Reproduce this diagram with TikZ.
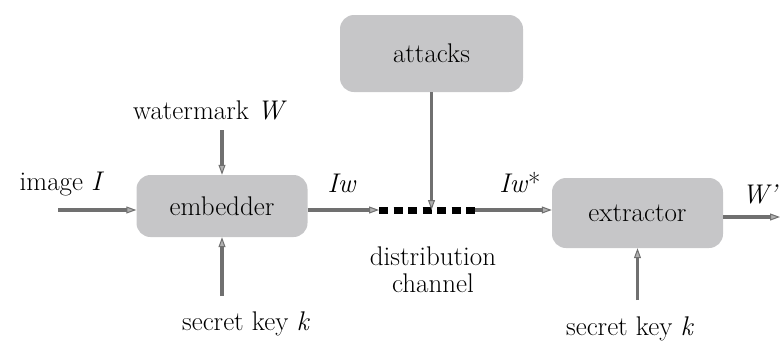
\documentclass[tikz,border=0pt]{standalone}
\usetikzlibrary{arrows.meta}
\definecolor{boxgray}{HTML}{C6C6C8}
\definecolor{linegray}{HTML}{707070}
\definecolor{tipgray}{HTML}{B0B0B0}
\begin{document}
\begin{tikzpicture}[x=1pt,y=-1pt,
  block/.style={draw=none, fill=boxgray, rounded corners=14pt, minimum width=171pt, minimum height=62pt, inner sep=0pt, font=\fontsize{27}{27}\selectfont},
  lbl/.style={font=\fontsize{27}{27}\selectfont, inner sep=0pt},
  flow/.style={draw=linegray, line width=3.5pt, -{Triangle[open, length=10pt, width=7pt, line width=1pt, fill=tipgray]}},
  chan/.style={draw=black, line width=7pt, dash pattern=on 9pt off 5.5pt}]
\useasboundingbox (0,0) rectangle (780,341);
% blocks
\node[block] (emb) at (222,206) {embedder};
\node[block, minimum height=70pt] (ext) at (637.5,213) {extractor};
\node[block, minimum width=183pt, minimum height=77pt] (atk) at (431.5,53.5) {attacks};
% labels
\node[lbl] (img) at (62,184) {image \textit{I}};
\node[lbl] (wm) at (210,110) {watermark \textit{W}};
\node[lbl] (sk1) at (246,324) {secret key \textit{k}};
\node[lbl] (sk2) at (630,329) {secret key \textit{k}};
\node[lbl] (iw) at (342,183) {\textit{Iw}};
\node[lbl] (iws) at (520,183) {\textit{Iw}*};
\node[lbl, align=center] (dc) at (433,270) {distribution\\channel};
\node[lbl, anchor=west] (wp) at (742,194) {\textit{W'}};
% coordinates
\coordinate (chs) at (379,210);
\coordinate (che) at (475,210);
\coordinate (chmid) at (431.5,210);
\coordinate (imgs) at (58,210);
\coordinate (wms) at (222,130);
\coordinate (sk1s) at (222,296);
\coordinate (sk2s) at (637.5,300);
\coordinate (wpe) at (780,217);
% channel
\draw[chan] (chs) -- (che);
% connectors
\draw[flow] (imgs) -- (emb.west |- imgs);
\draw[flow] (wms) -- (emb.north);
\draw[flow] (sk1s) -- (emb.south);
\draw[flow] (emb.east |- chs) -- (chs);
\draw[flow] (che) -- (ext.west |- che);
\draw[flow] (sk2s) -- (ext.south);
\draw[flow] (ext.east |- wpe) -- (wpe);
\draw[flow] (atk.south) -- (chmid);
\end{tikzpicture}
\end{document}
